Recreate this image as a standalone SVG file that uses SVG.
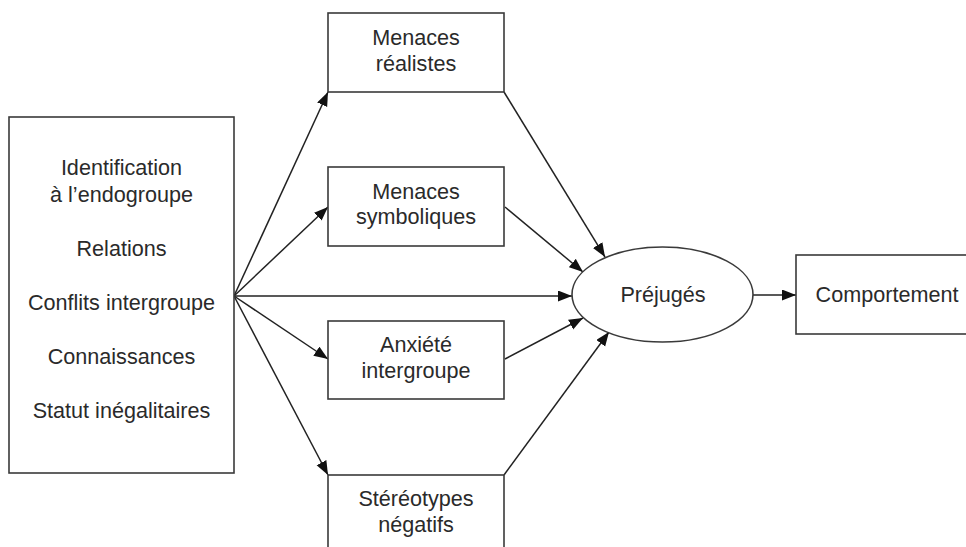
<svg xmlns="http://www.w3.org/2000/svg" width="966" height="547" viewBox="0 0 966 547">
<style>
.box{fill:#fff;stroke:#3a3a3a;stroke-width:1.6}
.t{font-family:"Liberation Sans",Arial,sans-serif;font-size:21.6px;fill:#2a2a2a;text-anchor:middle}
.c{stroke:#222;stroke-width:1.5;fill:none;marker-end:url(#ah)}
</style>
<defs>
<marker id="ah" markerUnits="userSpaceOnUse" markerWidth="15" markerHeight="12" refX="14" refY="5.5" orient="auto">
<path d="M0,0 L14,5.5 L0,11 z" fill="#111"/>
</marker>
</defs>
<rect width="966" height="547" fill="#fff"/>
<g id="connectors">
<line class="c" x1="234" y1="296" x2="328" y2="92"/>
<line class="c" x1="234" y1="296" x2="328" y2="207"/>
<line class="c" x1="234" y1="296" x2="572" y2="296"/>
<line class="c" x1="234" y1="296" x2="328" y2="359"/>
<line class="c" x1="234" y1="296" x2="328" y2="475"/>
<line class="c" x1="504" y1="92" x2="605" y2="257"/>
<line class="c" x1="505" y1="207" x2="583" y2="272"/>
<line class="c" x1="505" y1="359" x2="583" y2="318"/>
<line class="c" x1="504" y1="475" x2="609" y2="332"/>
<line class="c" x1="753" y1="295" x2="796" y2="295"/>
</g>
<g id="antecedents">
<rect class="box" x="9" y="117" width="225" height="356"/>
<text class="t" x="121.5" y="175">Identification</text>
<text class="t" x="121.5" y="202">à l’endogroupe</text>
<text class="t" x="121.5" y="256">Relations</text>
<text class="t" x="121.5" y="310">Conflits intergroupe</text>
<text class="t" x="121.5" y="364">Connaissances</text>
<text class="t" x="121.5" y="418">Statut inégalitaires</text>
</g>
<g id="menaces-realistes">
<rect class="box" x="328" y="13" width="176" height="79"/>
<text class="t" x="416" y="45">Menaces</text>
<text class="t" x="416" y="71">réalistes</text>
</g>
<g id="menaces-symboliques">
<rect class="box" x="328" y="167" width="176" height="79"/>
<text class="t" x="416" y="199">Menaces</text>
<text class="t" x="416" y="224">symboliques</text>
</g>
<g id="anxiete">
<rect class="box" x="328" y="321" width="176" height="78"/>
<text class="t" x="416" y="352">Anxiété</text>
<text class="t" x="416" y="378">intergroupe</text>
</g>
<g id="stereotypes">
<rect class="box" x="328" y="475" width="176" height="90"/>
<text class="t" x="416" y="506">Stéréotypes</text>
<text class="t" x="416" y="532">négatifs</text>
</g>
<g id="prejuges">
<ellipse class="box" cx="662.5" cy="294.5" rx="90.5" ry="47.5"/>
<text class="t" x="663" y="302">Préjugés</text>
</g>
<g id="comportement">
<rect class="box" x="796" y="255" width="180" height="79"/>
<text class="t" x="887" y="302">Comportement</text>
</g>
</svg>
